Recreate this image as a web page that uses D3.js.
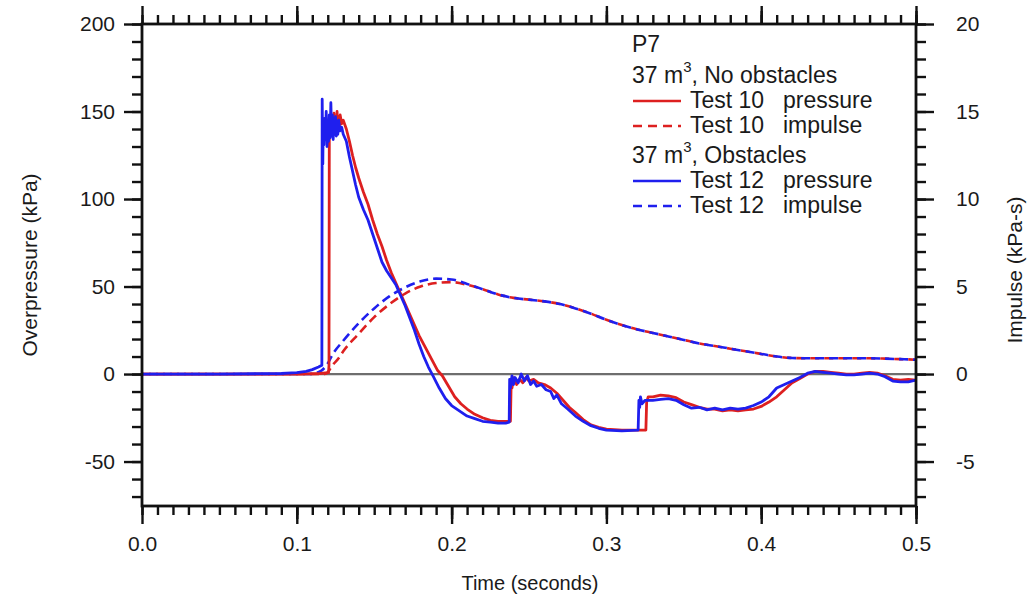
<!DOCTYPE html>
<html>
<head>
<meta charset="utf-8">
<script src="https://cdn.jsdelivr.net/npm/d3@7"></script>
<style>
  body { margin: 0; background: #fff; }
  svg { font-family: "Liberation Sans", Arial, sans-serif; }
</style>
</head>
<body>
<script>
// ---- data ----
// [time (s), overpressure (kPa)]
var test10Pressure = [
  [0,0],[0.1,0],[0.115,0.3],[0.1205,0.8],[0.1208,5],[0.121,142],[0.1215,136],[0.122,147],[0.1225,138],
  [0.123,144],[0.1235,137],[0.124,149],[0.1245,140],[0.125,146],[0.1255,139],[0.126,150],[0.1265,141],
  [0.127,147],[0.1275,142],[0.128,148],[0.129,143],[0.130,145],[0.132,140],[0.134,133],
  [0.136,125],[0.138,118],[0.140,112],[0.143,104],[0.146,97],[0.149,88],[0.152,80],[0.155,73],
  [0.158,65],[0.161,58],[0.164,52],[0.167,46],[0.170,40],[0.173,34],[0.176,28],[0.179,22],[0.182,17],
  [0.185,12],[0.188,7],[0.191,2],[0.194,-1],[0.198,-7],[0.202,-13],[0.206,-17],[0.21,-20],[0.215,-23],
  [0.22,-25],[0.225,-26.5],[0.23,-27],[0.235,-27],[0.238,-27],[0.2385,-4],[0.239,-8],[0.24,-2],
  [0.242,-6],[0.244,-3],[0.246,-5],[0.248,-2],[0.25,-4],[0.253,-3],[0.256,-5],[0.26,-6],[0.264,-8],
  [0.268,-11],[0.272,-15],[0.276,-19],[0.28,-22],[0.285,-26],[0.29,-29],[0.295,-30.5],[0.30,-31.5],
  [0.31,-32],[0.32,-32],[0.3255,-32],[0.326,-16],[0.327,-13],[0.33,-13],[0.335,-12],[0.34,-12.5],
  [0.345,-13.5],[0.35,-16],[0.355,-17.5],[0.36,-19],[0.365,-20],[0.37,-20],[0.375,-21],[0.38,-20.5],
  [0.385,-21],[0.39,-20.5],[0.395,-20],[0.40,-18.5],[0.405,-16],[0.41,-13],[0.415,-9],[0.42,-5],
  [0.425,-2.5],[0.43,0],[0.435,1.5],[0.44,1.5],[0.445,1],[0.45,0.5],[0.455,0],[0.46,0],[0.465,0.5],
  [0.47,1],[0.475,0.5],[0.48,-1],[0.485,-3],[0.49,-3.5],[0.495,-3],[0.5,-3.5]
];
var test12Pressure = [
  [0,0],[0.05,0],[0.09,0.3],[0.1,0.8],[0.106,1.5],[0.11,2.5],[0.114,4],[0.1162,5],[0.1164,157],
  [0.1168,120],[0.117,140],[0.1175,131],[0.118,146],[0.1185,134],[0.119,150],[0.1195,130],[0.120,145],
  [0.1205,133],[0.121,148],[0.1215,135],[0.122,155],[0.1225,136],[0.123,148],[0.1235,134],[0.124,146],
  [0.1245,137],[0.125,147],[0.1255,136],[0.126,144],[0.1265,137],[0.127,145],[0.128,139],[0.129,141],
  [0.130,137],[0.132,133],[0.134,124],[0.136,116],[0.138,108],[0.140,101],[0.143,94],[0.146,88],
  [0.149,80],[0.152,72],[0.155,64],[0.158,59],[0.161,55],[0.164,51],[0.167,45],[0.170,39],[0.173,32],
  [0.176,25],[0.179,17],[0.182,10],[0.185,4],[0.188,-1],[0.192,-8],[0.196,-14],[0.2,-18],[0.205,-21],
  [0.21,-24],[0.215,-25.5],[0.22,-27],[0.225,-27.5],[0.23,-28],[0.235,-28],[0.2372,-27.5],[0.2375,-3],
  [0.238,-8],[0.239,-1],[0.240,-6],[0.241,-2],[0.243,-5],[0.245,0],[0.247,-4],[0.249,-1],[0.251,-6],
  [0.253,-4],[0.255,-7],[0.258,-6],[0.261,-9],[0.264,-10],[0.266,-14],[0.268,-12],[0.271,-17],
  [0.275,-20],[0.28,-24],[0.285,-27],[0.29,-29.5],[0.295,-31],[0.30,-32],[0.31,-32.5],[0.3205,-32],
  [0.321,-15],[0.3215,-19],[0.322,-13],[0.323,-17],[0.325,-15],[0.33,-15],[0.335,-14.5],[0.34,-14],
  [0.345,-15],[0.35,-17.5],[0.355,-19.5],[0.36,-19],[0.365,-20.5],[0.37,-19.5],[0.375,-20.5],
  [0.38,-19.5],[0.385,-20],[0.39,-19.5],[0.395,-18],[0.40,-16],[0.405,-13],[0.41,-8],[0.415,-6],
  [0.42,-4],[0.425,-2],[0.43,0.5],[0.435,1.5],[0.44,1],[0.445,0.5],[0.45,0],[0.455,-0.5],[0.46,-0.5],
  [0.465,0],[0.47,0.5],[0.475,0],[0.48,-1.5],[0.485,-4],[0.49,-4.5],[0.495,-4.5],[0.5,-3.5]
];
// [time (s), impulse (kPa-s)]
var test10Impulse = [
  [0,0],[0.118,0],[0.12,0.1],[0.123,0.5],[0.127,0.9],[0.13,1.3],[0.14,2.3],[0.15,3.25],[0.16,4.0],
  [0.17,4.6],[0.18,5.0],[0.19,5.2],[0.2,5.25],[0.21,5.1],[0.22,4.85],[0.23,4.55],[0.24,4.35],
  [0.25,4.25],[0.26,4.15],[0.27,4.0],[0.28,3.75],[0.29,3.45],[0.30,3.1],[0.31,2.8],[0.32,2.55],
  [0.33,2.35],[0.34,2.15],[0.35,1.95],[0.36,1.75],[0.37,1.6],[0.38,1.45],[0.39,1.3],[0.40,1.15],
  [0.41,1.0],[0.42,0.92],[0.43,0.9],[0.44,0.9],[0.45,0.9],[0.46,0.9],[0.47,0.9],[0.48,0.88],
  [0.49,0.85],[0.5,0.82]
];
var test12Impulse = [
  [0,0],[0.108,0],[0.112,0.05],[0.116,0.2],[0.12,0.6],[0.123,1.1],[0.13,1.9],[0.14,2.9],[0.15,3.75],
  [0.16,4.45],[0.17,4.95],[0.18,5.3],[0.19,5.45],[0.2,5.4],[0.21,5.15],[0.22,4.85],[0.23,4.55],
  [0.24,4.35],[0.25,4.25],[0.26,4.15],[0.27,4.0],[0.28,3.75],[0.29,3.45],[0.30,3.1],[0.31,2.8],
  [0.32,2.55],[0.33,2.35],[0.34,2.15],[0.35,1.95],[0.36,1.75],[0.37,1.6],[0.38,1.45],[0.39,1.3],
  [0.40,1.15],[0.41,1.0],[0.42,0.92],[0.43,0.9],[0.44,0.9],[0.45,0.9],[0.46,0.9],[0.47,0.9],
  [0.48,0.88],[0.49,0.85],[0.5,0.82]
];

var xTicks = [0, 0.1, 0.2, 0.3, 0.4, 0.5];
var yTicks = [-50, 0, 50, 100, 150, 200];
var y2Ticks = [-5, 0, 5, 10, 15, 20];

var red = "#dd2020", blue = "#1f1fee";

// ---- layout ----
var W = 1031, H = 600;
var plotL = 142, plotR = 916, plotT = 24, plotB = 506;

var x = d3.scaleLinear().domain([0, 0.5]).range([plotL, plotR]);
var y = d3.scaleLinear().domain([-75.4, 200]).range([plotB, plotT]);
var y2 = d3.scaleLinear().domain([-7.54, 20]).range([plotB, plotT]);

var svg = d3.select("body").append("svg")
    .attr("width", W)
    .attr("height", H);

svg.append("defs").append("clipPath").attr("id", "clip")
  .append("rect").attr("x", plotL).attr("y", plotT).attr("width", plotR - plotL).attr("height", plotB - plotT);

// zero line
svg.append("line")
    .attr("x1", plotL).attr("x2", plotR)
    .attr("y1", y(0)).attr("y2", y(0))
    .attr("stroke", "#6e6e6e").attr("stroke-width", 2.2);

var plot = svg.append("g").attr("clip-path", "url(#clip)");

var pLine = d3.line().x(function(d) { return x(d[0]); }).y(function(d) { return y(d[1]); });
var iLine = d3.line().curve(d3.curveMonotoneX).x(function(d) { return x(d[0]); }).y(function(d) { return y2(d[1]); });

// impulse (dashed, alternating colours)
plot.append("path").attr("d", iLine(test10Impulse))
    .attr("fill", "none").attr("stroke", red).attr("stroke-width", 2.6)
    .attr("stroke-dasharray", "9,5");
plot.append("path").attr("d", iLine(test12Impulse))
    .attr("fill", "none").attr("stroke", blue).attr("stroke-width", 2.6)
    .attr("stroke-dasharray", "9,5").attr("stroke-dashoffset", 7);

// pressure
plot.append("path").attr("d", pLine(test10Pressure))
    .attr("fill", "none").attr("stroke", red).attr("stroke-width", 2.8).attr("stroke-linejoin", "round");
plot.append("path").attr("d", pLine(test12Pressure))
    .attr("fill", "none").attr("stroke", blue).attr("stroke-width", 2.8).attr("stroke-linejoin", "round");

// ---- axes ----
function steps(a, b, s) { return d3.range(Math.round(a / s), Math.round(b / s) + 1).map(function(i) { return +(i * s).toFixed(4); }); }
var xMinor = steps(0, 0.5, 0.01), xMid = steps(0.05, 0.45, 0.1);
var yMinor = steps(-70, 200, 10);
var y2Minor = steps(-7, 20, 1);

function tickGroup(axis, tr) {
  var g = svg.append("g").attr("transform", tr).call(axis);
  g.select(".domain").remove();
  g.selectAll("line").attr("stroke", "#111").attr("stroke-width", 2.4);
  g.selectAll("text").attr("fill", "#1a1a1a").style("font-size", "21px");
  return g;
}

// bottom
tickGroup(d3.axisBottom(x).tickValues(xMinor).tickSize(9).tickFormat(""), "translate(0," + plotB + ")");
tickGroup(d3.axisBottom(x).tickValues(xMid).tickSize(13).tickFormat(""), "translate(0," + plotB + ")");
tickGroup(d3.axisBottom(x).tickValues(xTicks).tickSize(18).tickPadding(12).tickFormat(d3.format(".1f")), "translate(0," + plotB + ")");
// top
tickGroup(d3.axisTop(x).tickValues(xMinor).tickSize(9).tickFormat(""), "translate(0," + plotT + ")");
tickGroup(d3.axisTop(x).tickValues(xMid).tickSize(13).tickFormat(""), "translate(0," + plotT + ")");
tickGroup(d3.axisTop(x).tickValues(xTicks).tickSize(18).tickFormat(""), "translate(0," + plotT + ")");
// left
tickGroup(d3.axisLeft(y).tickValues(yMinor).tickSize(10).tickFormat(""), "translate(" + plotL + ",0)");
tickGroup(d3.axisLeft(y).tickValues(yTicks).tickSize(18).tickPadding(9).tickFormat(function(d) { return String(d); }), "translate(" + plotL + ",0)");
// right
tickGroup(d3.axisRight(y2).tickValues(y2Minor).tickSize(10).tickFormat(""), "translate(" + plotR + ",0)");
tickGroup(d3.axisRight(y2).tickValues(y2Ticks).tickSize(18).tickPadding(22).tickFormat(function(d) { return String(d); }), "translate(" + plotR + ",0)");

// frame
svg.append("rect")
    .attr("x", plotL).attr("y", plotT)
    .attr("width", plotR - plotL).attr("height", plotB - plotT)
    .attr("fill", "none").attr("stroke", "#111").attr("stroke-width", 2.8);

// axis titles
svg.append("text")
    .attr("x", 530).attr("y", 590)
    .attr("text-anchor", "middle")
    .style("font-size", "20px").attr("fill", "#1a1a1a")
    .text("Time (seconds)");
svg.append("text")
    .attr("transform", "translate(37,265) rotate(-90)")
    .attr("text-anchor", "middle")
    .style("font-size", "21px").attr("fill", "#1a1a1a")
    .text("Overpressure (kPa)");
svg.append("text")
    .attr("transform", "translate(1022,270) rotate(-90)")
    .attr("text-anchor", "middle")
    .style("font-size", "21px").attr("fill", "#1a1a1a")
    .text("Impulse (kPa-s)");

// ---- legend ----
var legend = svg.append("g").style("font-size", "23px").attr("fill", "#1a1a1a");
legend.append("text").attr("x", 632).attr("y", 52).text("P7");

var groups = [
  {title: "No obstacles", test: "Test 10", color: red, y: 83},
  {title: "Obstacles", test: "Test 12", color: blue, y: 163}
];
groups.forEach(function(g) {
  var t = legend.append("text").attr("x", 632).attr("y", g.y);
  t.append("tspan").text("37 m");
  t.append("tspan").attr("dy", -11).style("font-size", "15px").text("3");
  t.append("tspan").attr("dy", 11).text(", " + g.title);
  [["pressure", null], ["impulse", "9,6"]].forEach(function(r, i) {
    var by = g.y + 25 + i * 25;
    legend.append("line")
        .attr("x1", 633).attr("x2", 681)
        .attr("y1", by - 7).attr("y2", by - 7)
        .attr("stroke", g.color).attr("stroke-width", 2.4)
        .attr("stroke-dasharray", r[1]);
    legend.append("text").attr("x", 690).attr("y", by).text(g.test);
    legend.append("text").attr("x", 783).attr("y", by).text(r[0]);
  });
});
</script>
</body>
</html>
